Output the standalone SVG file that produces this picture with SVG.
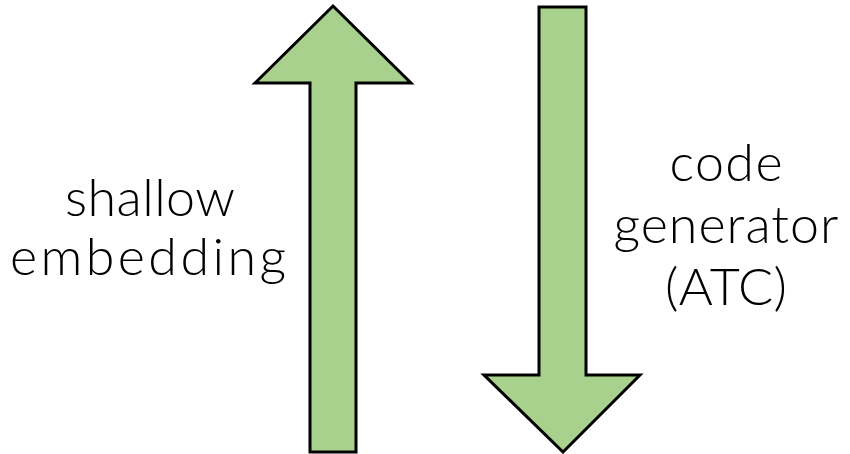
<svg xmlns="http://www.w3.org/2000/svg" width="850" height="454" viewBox="0 0 850 454">
<style>
.arrow{fill:#a9d18e;stroke:#000;stroke-width:3;stroke-linejoin:miter}
.lbl{font-family:Lato,"Open Sans","Liberation Sans",sans-serif;font-size:52px;font-weight:300;fill:#000;text-anchor:middle}
</style>
<rect width="850" height="454" fill="#fff"/>
<g id="connectors">
<g id="up-arrow">
<polygon class="arrow" points="333,6 411,83 356,83 356,452 310,452 310,83 255,83"/>
</g>
<g id="down-arrow">
<polygon class="arrow" points="539,7 586,7 586,375 640,375 563,452 484,375 539,375"/>
</g>
</g>
<g id="label-left">
<text class="lbl" x="150" y="216" textLength="170" lengthAdjust="spacing">shallow</text>
<text class="lbl" x="148" y="275" textLength="276" lengthAdjust="spacing">embedding</text>
</g>
<g id="label-right">
<text class="lbl" x="726" y="181" textLength="113" lengthAdjust="spacing">code</text>
<text class="lbl" x="726" y="243" textLength="225" lengthAdjust="spacing">generator</text>
<text class="lbl" x="726" y="305" textLength="122" lengthAdjust="spacing">(ATC)</text>
</g>
</svg>
